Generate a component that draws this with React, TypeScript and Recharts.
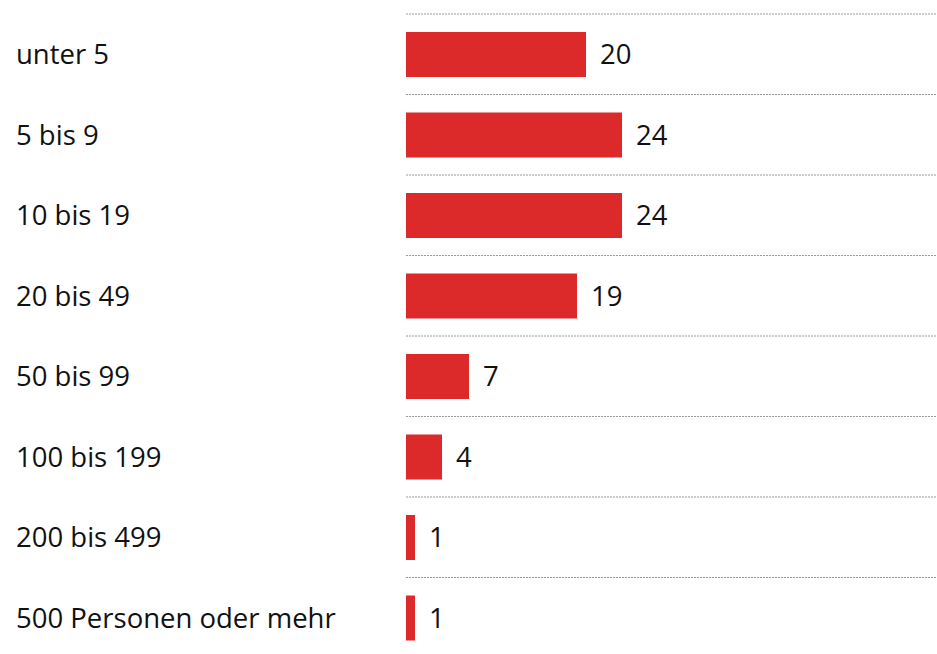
import React from "react";
import { BarChart, Bar, XAxis, YAxis, CartesianGrid, LabelList } from "recharts";

const categories = [
  "unter 5",
  "5 bis 9",
  "10 bis 19",
  "20 bis 49",
  "50 bis 99",
  "100 bis 199",
  "200 bis 499",
  "500 Personen oder mehr",
];
const values = [20, 24, 24, 19, 7, 4, 1, 1];

const data = categories.map((c, i) => ({ name: c, value: values[i] }));

const FONT = "'Open Sans', sans-serif";

const Tick = (props: any) => {
  const { y, payload } = props;
  return (
    <text x={16} y={y} dy="0.36em" textAnchor="start" fill="#111" fontSize={27.5} fontWeight={400} fontFamily={FONT}>
      {payload.value}
    </text>
  );
};

export default function App() {
  return (
    <div style={{ position: "absolute", left: 0, top: 0, width: 937, height: 654, overflow: "hidden", background: "#fff" }}>
      <BarChart
        width={937}
        height={658}
        data={data}
        layout="vertical"
        margin={{ top: 14, right: 0, bottom: 0, left: 0 }}
        barCategoryGap={0}
      >
        <CartesianGrid
          vertical={false}
          stroke="#9a9a9a"
          strokeDasharray="2 1"
          horizontalCoordinatesGenerator={({ offset }: any) =>
            categories.map((_, i) => offset.top + (i * offset.height) / categories.length)
          }
        />
        <XAxis type="number" hide domain={[0, 59]} />
        <YAxis type="category" dataKey="name" width={406} axisLine={false} tickLine={false} tick={<Tick />} />
        <Bar dataKey="value" fill="#dc292a" barSize={45} isAnimationActive={false}>
          <LabelList dataKey="value" position="right" offset={14} fill="#111" fontSize={27.5} fontWeight={400} fontFamily={FONT} />
        </Bar>
      </BarChart>
    </div>
  );
}
